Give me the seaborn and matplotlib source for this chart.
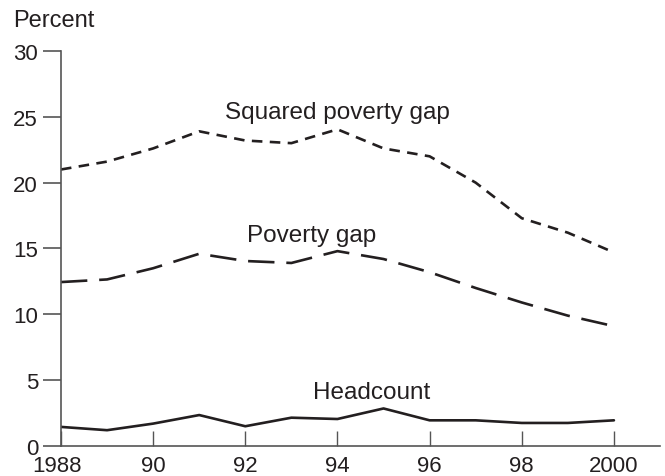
import pandas as pd
import seaborn as sns
import matplotlib.pyplot as plt
import matplotlib.transforms as mtransforms

years = list(range(1988, 2001))
squared_gap = [21.0, 21.6, 22.6, 23.9, 23.2, 23.0, 24.05, 22.6, 22.0, 20.0, 17.3, 16.2, 14.7]
poverty_gap = [12.45, 12.65, 13.5, 14.6, 14.05, 13.9, 14.8, 14.2, 13.2, 12.0, 10.9, 9.9, 9.1]
headcount = [1.45, 1.2, 1.7, 2.35, 1.5, 2.15, 2.05, 2.85, 1.95, 1.95, 1.75, 1.75, 1.95]

x_ticks = [1988, 1990, 1992, 1994, 1996, 1998, 2000]
x_tick_labels = ["1988", "90", "92", "94", "96", "98", "2000"]
y_ticks = [0, 5, 10, 15, 20, 25, 30]

df = pd.DataFrame({
    "year": years,
    "Squared poverty gap": squared_gap,
    "Poverty gap": poverty_gap,
    "Headcount": headcount,
})

sns.set_style("white")
plt.rcParams["font.family"] = ["Liberation Sans", "DejaVu Sans"]

fig = plt.figure(figsize=(6.65, 4.77), dpi=100)
ax = fig.add_axes([0.0917, 0.0629, 0.9008, 0.8281])

line_color = "#231f20"
text_size = 17.5
tick_size = 16
sns.lineplot(data=df, x="year", y="Squared poverty gap", ax=ax, color=line_color,
             linewidth=1.9, dashes=False)
sns.lineplot(data=df, x="year", y="Poverty gap", ax=ax, color=line_color,
             linewidth=1.9, dashes=False)
sns.lineplot(data=df, x="year", y="Headcount", ax=ax, color=line_color,
             linewidth=1.9, dashes=False)
ax.lines[0].set_dashes([4, 2.8])
ax.lines[1].set_dashes([10, 4.5])

ax.set_xlim(1988, 2001)
ax.set_ylim(0, 30)
ax.set_xticks(x_ticks)
ax.set_xticklabels(x_tick_labels)
ax.set_yticks(y_ticks)
ax.set_xlabel("")
ax.set_ylabel("")

for side in ["top", "right"]:
    ax.spines[side].set_visible(False)
for side in ["left", "bottom"]:
    ax.spines[side].set_color("#555555")
    ax.spines[side].set_linewidth(1.2)

ax.tick_params(axis="y", direction="out", length=13, width=1.2, color="#555555",
               labelsize=tick_size, pad=3.5, labelcolor="#231f20", left=True)
ax.tick_params(axis="x", direction="in", length=11, width=1.0, color="#555555",
               labelsize=tick_size, pad=6.5, labelcolor="#231f20", bottom=True)

# first year label sits a little left of its tick in the original
first = ax.get_xticklabels()[0]
first.set_transform(first.get_transform() +
                    mtransforms.ScaledTranslation(-3.5 / 100, 0, fig.dpi_scale_trans))

ax.text(1994.0, 25.4, "Squared poverty gap", ha="center", va="center", fontsize=text_size,
        color="#231f20")
ax.text(1993.45, 16.0, "Poverty gap", ha="center", va="center", fontsize=text_size,
        color="#231f20")
ax.text(1994.75, 4.1, "Headcount", ha="center", va="center", fontsize=text_size,
        color="#231f20")
fig.text(0.019, 0.956, "Percent", ha="left", va="center", fontsize=17,
         color="#231f20")

fig.savefig("out.png", dpi=100)
